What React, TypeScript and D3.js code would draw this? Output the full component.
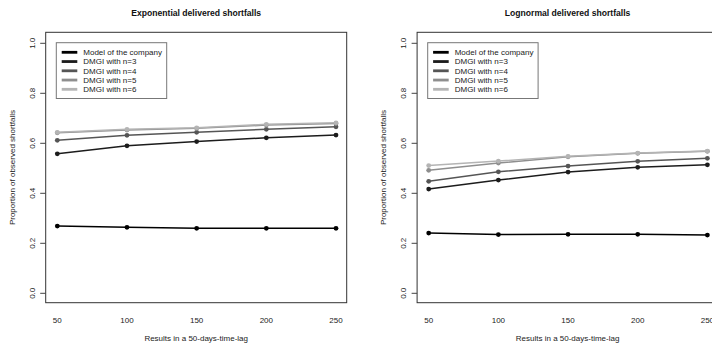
import React from "react";
import * as d3 from "d3";

// Time lags (days) on the x axis
const lags = [50, 100, 150, 200, 250];
const xTicks = [50, 100, 150, 200, 250];
const yTicks = [0, 0.2, 0.4, 0.6, 0.8, 1.0];

const seriesNames = [
  "Model of the company",
  "DMGI with n=3",
  "DMGI with n=4",
  "DMGI with n=5",
  "DMGI with n=6",
];
const seriesColors = ["#000000", "#1c1c1c", "#555555", "#8e8e8e", "#b4b4b4"];

// Exponential delivered shortfalls
const expModel = [0.269, 0.264, 0.26, 0.26, 0.26];
const expN3 = [0.558, 0.59, 0.607, 0.622, 0.633];
const expN4 = [0.612, 0.632, 0.644, 0.656, 0.666];
const expN5 = [0.642, 0.653, 0.66, 0.673, 0.679];
const expN6 = [0.644, 0.656, 0.662, 0.676, 0.682];

// Lognormal delivered shortfalls
const logModel = [0.241, 0.235, 0.236, 0.236, 0.233];
const logN3 = [0.417, 0.453, 0.485, 0.504, 0.514];
const logN4 = [0.448, 0.486, 0.509, 0.528, 0.54];
const logN5 = [0.492, 0.521, 0.546, 0.56, 0.568];
const logN6 = [0.511, 0.529, 0.548, 0.561, 0.569];

const panels = [
  { title: "Exponential delivered shortfalls", series: [expModel, expN3, expN4, expN5, expN6] },
  { title: "Lognormal delivered shortfalls", series: [logModel, logN3, logN4, logN5, logN6] },
];

const FONT = "'Liberation Sans', Arial, Helvetica, sans-serif";
const PANEL_OFFSET = 371.4;

function Panel({ title, series, dx }: { title: string; series: number[][]; dx: number }) {
  const box = { left: 45.7, top: 32.3, right: 346.7, bottom: 302.7 };
  const x = d3.scaleLinear().domain([50, 250]).range([57.3, 336]);
  const y = d3.scaleLinear().domain([0, 1]).range([293.3, 43.3]);
  const line = d3
    .line<number>()
    .x((_, i) => x(lags[i]))
    .y((d) => y(d));

  const cx = (box.left + box.right) / 2;
  const cy = (box.top + box.bottom) / 2;

  const legend = { x: 56.3, y: 42.7, w: 110.4, h: 55.8 };
  const rowY = (i: number) => 52.3 + i * 9.25;

  return (
    <g transform={`translate(${dx},0)`} fontFamily={FONT}>
      <text x={cx} y={16} textAnchor="middle" fontSize={8.6} fontWeight="bold" fill="#111">
        {title}
      </text>
      <rect
        x={box.left}
        y={box.top}
        width={box.right - box.left}
        height={box.bottom - box.top}
        fill="none"
        stroke="#333"
        strokeWidth={1}
      />
      {yTicks.map((t) => (
        <g key={t}>
          <line x1={box.left - 5.5} x2={box.left} y1={y(t)} y2={y(t)} stroke="#444" strokeWidth={1} />
          <text
            transform={`translate(${31.7 + 3},${y(t)}) rotate(-90)`}
            textAnchor="middle"
            fontSize={8}
            fill="#222"
          >
            {t.toFixed(1)}
          </text>
        </g>
      ))}
      {xTicks.map((t) => (
        <text key={t} x={x(t)} y={323} textAnchor="middle" fontSize={8} fill="#222">
          {t}
        </text>
      ))}
      <text x={cx} y={341} textAnchor="middle" fontSize={8} fill="#222">
        Results in a 50-days-time-lag
      </text>
      <text
        transform={`translate(${15},${cy + 0}) rotate(-90)`}
        textAnchor="middle"
        fontSize={8}
        fill="#222"
      >
        Proportion of observed shortfalls
      </text>

      {series.map((s, si) => (
        <g key={si}>
          <path d={line(s) ?? ""} fill="none" stroke={seriesColors[si]} strokeWidth={1.5} />
          {s.map((v, i) => (
            <circle key={i} cx={x(lags[i])} cy={y(v)} r={2.4} fill={seriesColors[si]} />
          ))}
        </g>
      ))}

      <rect
        x={legend.x}
        y={legend.y}
        width={legend.w}
        height={legend.h}
        fill="#fff"
        stroke="#777"
        strokeWidth={1}
      />
      {seriesNames.map((name, i) => (
        <g key={name}>
          <line
            x1={61.7}
            x2={77.3}
            y1={rowY(i)}
            y2={rowY(i)}
            stroke={seriesColors[i]}
            strokeWidth={2.8}
          />
          <text x={83.3} y={rowY(i) + 2.9} fontSize={8} fill="#222">
            {name}
          </text>
        </g>
      ))}
    </g>
  );
}

export default function App() {
  return (
    <svg
      width={712}
      height={345}
      style={{ position: "absolute", left: 0, top: 0, background: "#fff" }}
    >
      <rect width={712} height={345} fill="#fff" />
      {panels.map((p, i) => (
        <Panel key={p.title} title={p.title} series={p.series} dx={i * PANEL_OFFSET} />
      ))}
    </svg>
  );
}
